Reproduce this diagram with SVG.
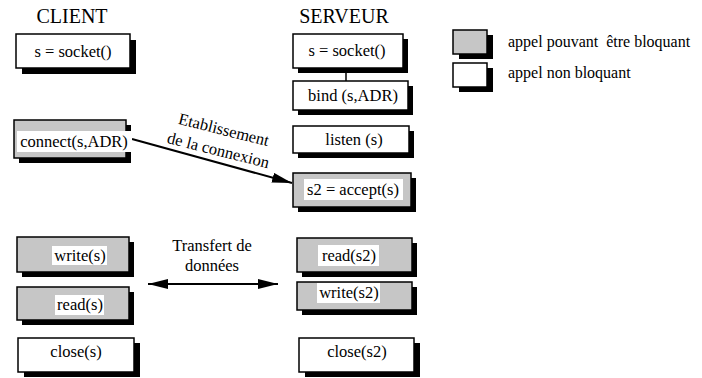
<svg xmlns="http://www.w3.org/2000/svg" width="702" height="378" viewBox="0 0 702 378">
<style>
text{font-family:"Liberation Serif","Times New Roman",serif;fill:#000}
.t{font-size:16.5px;text-anchor:middle}
.h{font-size:20px;text-anchor:middle}
.lg{font-size:16px;white-space:pre}
.sh{fill:#000}
.w{fill:#fff;stroke:#000;stroke-width:1.5}
.g{fill:#c6c6c6;stroke:#000;stroke-width:1.5}
.bg{fill:#fff}
.ln{stroke:#000;stroke-width:2;fill:none}
</style>
<defs>
<marker id="ah" markerWidth="20" markerHeight="10" refX="20" refY="5" orient="auto" markerUnits="userSpaceOnUse">
<path d="M0,0 L20,5 L0,10 Z" fill="#000"/>
</marker>
<marker id="as" markerWidth="20" markerHeight="10" refX="0" refY="5" orient="auto" markerUnits="userSpaceOnUse">
<path d="M20,0 L0,5 L20,10 Z" fill="#000"/>
</marker>
</defs>
<rect width="702" height="378" fill="#fff"/>
<text class="h" x="72" y="23">CLIENT</text>
<text class="h" x="344" y="23">SERVEUR</text>

<g id="legend">
<rect class="sh" x="459" y="35" width="34" height="24"/>
<rect class="g" x="453" y="30" width="34" height="24"/>
<text class="lg" x="508" y="47" xml:space="preserve">appel pouvant  être bloquant</text>
<rect class="sh" x="459" y="68" width="34" height="24"/>
<rect class="w" x="453" y="63" width="34" height="24"/>
<text class="lg" x="508" y="78">appel non bloquant</text>
</g>

<g id="connectors">
<line class="ln" x1="346" y1="68" x2="346" y2="81" style="stroke-width:1.5"/>
<line class="ln" x1="132" y1="139" x2="292" y2="183" marker-end="url(#ah)"/>
<text class="t" transform="translate(222.5,135) rotate(14)">Etablissement</text>
<text class="t" transform="translate(217,155.5) rotate(14)">de la connexion</text>
<line class="ln" x1="148" y1="284" x2="278" y2="284" marker-start="url(#as)" marker-end="url(#ah)"/>
<text class="t" x="212" y="251">Transfert de</text>
<text class="t" x="212" y="271">données</text>
</g>

<g id="c_socket">
<rect class="sh" x="22" y="40" width="114" height="34"/>
<rect class="w" x="16" y="34" width="114" height="34"/>
<text class="t" x="73" y="57">s = socket()</text>
</g>
<g id="c_connect">
<rect class="sh" x="19" y="125" width="112" height="38"/>
<rect class="g" x="14" y="120" width="112" height="38"/>
<rect class="bg" x="17" y="131" width="115" height="21"/>
<text class="t" x="74" y="147">connect(s,ADR)</text>
</g>
<g id="c_write">
<rect class="sh" x="22" y="242" width="112" height="35"/>
<rect class="g" x="17" y="237" width="112" height="35"/>
<rect class="bg" x="52" y="246" width="55" height="19"/>
<text class="t" x="80" y="261">write(s)</text>
</g>
<g id="c_read">
<rect class="sh" x="22" y="292" width="112" height="33"/>
<rect class="g" x="17" y="287" width="112" height="33"/>
<rect class="bg" x="55" y="295" width="49" height="20"/>
<text class="t" x="80" y="310">read(s)</text>
</g>
<g id="c_close">
<rect class="sh" x="24" y="343" width="116" height="34"/>
<rect class="w" x="18" y="338" width="116" height="34"/>
<text class="t" x="76" y="357">close(s)</text>
</g>

<g id="s_socket">
<rect class="sh" x="298" y="39" width="110" height="34"/>
<rect class="w" x="293" y="34" width="110" height="34"/>
<text class="t" x="347" y="56">s = socket()</text>
</g>
<g id="s_bind">
<rect class="sh" x="298" y="86" width="115" height="29"/>
<rect class="w" x="293" y="81" width="115" height="29"/>
<text class="t" x="353" y="101">bind (s,ADR)</text>
</g>
<g id="s_listen">
<rect class="sh" x="298" y="131" width="116" height="27"/>
<rect class="w" x="293" y="126" width="116" height="27"/>
<text class="t" x="354" y="145">listen (s)</text>
</g>
<g id="s_accept">
<rect class="sh" x="298" y="178" width="118" height="34"/>
<rect class="g" x="293" y="173" width="118" height="34"/>
<rect class="bg" x="304" y="179" width="99" height="21"/>
<text class="t" x="353" y="195">s2 = accept(s)</text>
</g>
<g id="s_read">
<rect class="sh" x="302" y="243" width="115" height="34"/>
<rect class="g" x="297" y="238" width="115" height="34"/>
<rect class="bg" x="318" y="245" width="61" height="21"/>
<text class="t" x="349" y="261">read(s2)</text>
</g>
<g id="s_write">
<rect class="sh" x="302" y="287" width="115" height="28"/>
<rect class="g" x="297" y="282" width="115" height="28"/>
<rect class="bg" x="317" y="283" width="63" height="20"/>
<text class="t" x="349" y="298">write(s2)</text>
</g>
<g id="s_close">
<rect class="sh" x="305" y="343" width="115" height="34"/>
<rect class="w" x="299" y="338" width="115" height="34"/>
<text class="t" x="357" y="357">close(s2)</text>
</g>
</svg>
